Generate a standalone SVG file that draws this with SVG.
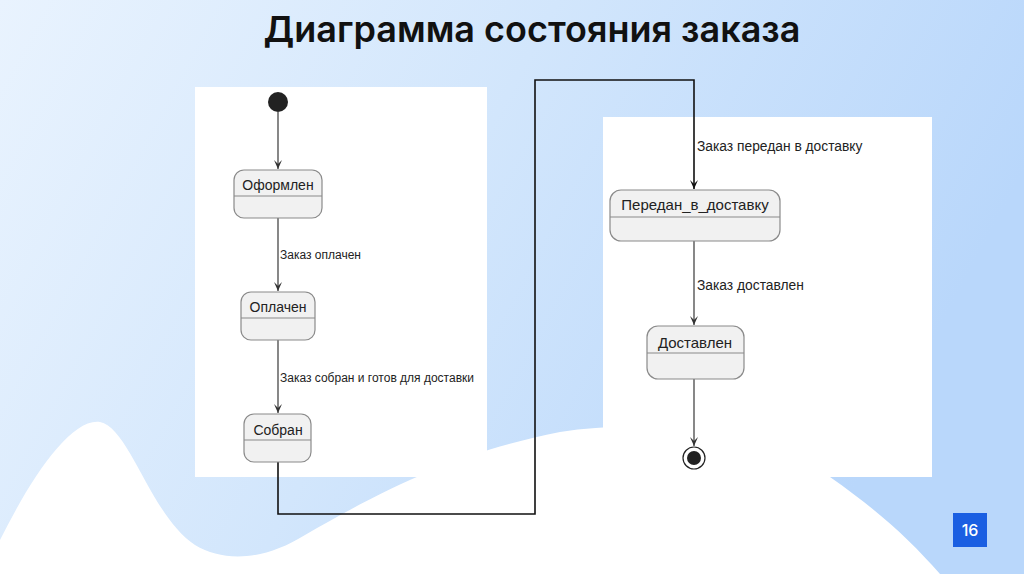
<svg xmlns="http://www.w3.org/2000/svg" width="1024" height="574" viewBox="0 0 1024 574">
<defs>
<linearGradient id="bg" x1="0" y1="0" x2="1" y2="0.3">
<stop offset="0" stop-color="#e9f3fe"/>
<stop offset="0.5" stop-color="#d2e6fc"/>
<stop offset="1" stop-color="#b9d7fb"/>
</linearGradient>
<marker id="ah" viewBox="0 0 10 10" refX="9" refY="5" markerWidth="10" markerHeight="10" markerUnits="userSpaceOnUse" orient="auto">
<path d="M0,1 L9,5 L0,9 L4,5 Z" fill="#333"/>
</marker>
<marker id="ahb" viewBox="0 0 10 10" refX="9" refY="5" markerWidth="10" markerHeight="10" markerUnits="userSpaceOnUse" orient="auto">
<path d="M0,1 L9,5 L0,9 L4,5 Z" fill="#111"/>
</marker>
</defs>
<style>
.panel{fill:#ffffff}
.st{fill:#f1f1f1;stroke:#8a8a8a;stroke-width:1.2}
.div{stroke:#8a8a8a;stroke-width:1.2}
.name{font-family:"Liberation Sans",Arial,sans-serif;font-size:14px;fill:#222;text-anchor:middle}
.nameR{font-family:"Liberation Sans",Arial,sans-serif;font-size:15px;fill:#222;text-anchor:middle}
.lbl{font-family:"Liberation Sans",Arial,sans-serif;font-size:12px;fill:#222}
.lblR{font-family:"Liberation Sans",Arial,sans-serif;font-size:13.8px;fill:#222}
.tr{stroke:#383838;stroke-width:1.2;fill:none;marker-end:url(#ah)}
.big{stroke:#111;stroke-width:1.6;fill:none;marker-end:url(#ahb)}
</style>
<rect x="0" y="0" width="1024" height="574" fill="url(#bg)"/>
<path d="M0,540 C30,480 70,418 100,422 C130,428 150,515 195,545 C225,563 265,560 305,535 C400,480 470,450 560,432 C650,418 760,430 830,477 C880,512 910,540 940,574 L0,574 Z" fill="#ffffff"/>
<text x="532" y="42" font-family="Inter,'Open Sans',sans-serif" font-size="36" font-weight="600" fill="#111" text-anchor="middle">Диаграмма состояния заказа</text>
<rect class="panel" x="195" y="87" width="292" height="390"/>
<rect class="panel" x="603" y="117" width="329" height="360"/>

<g id="connectors">
<path class="tr" d="M278,112 L278,169"/>
<path class="tr" d="M278,218 L278,291"/>
<text class="lbl" x="280" y="259">Заказ оплачен</text>
<path class="tr" d="M278,340 L278,413"/>
<text class="lbl" x="280" y="382">Заказ собран и готов для доставки</text>
<path class="big" d="M278,462 L278,514 L535,514 L535,80 L694,80 L694,189"/>
<text class="lblR" x="697" y="151">Заказ передан в доставку</text>
<path class="tr" d="M694,241 L694,325"/>
<text class="lblR" x="697" y="290">Заказ доставлен</text>
<path class="tr" d="M694,379 L694,446"/>
</g>

<g id="start"><circle cx="278" cy="102" r="10" fill="#222"/></g>

<g id="oformlen">
<rect class="st" x="234" y="170" width="88" height="48" rx="10"/>
<line class="div" x1="234" y1="196" x2="322" y2="196"/>
<text class="name" x="278" y="190">Оформлен</text>
</g>
<g id="oplachen">
<rect class="st" x="241" y="292" width="74" height="48" rx="10"/>
<line class="div" x1="241" y1="318" x2="315" y2="318"/>
<text class="name" x="278" y="312">Оплачен</text>
</g>
<g id="sobran">
<rect class="st" x="244" y="414" width="67" height="48" rx="10"/>
<line class="div" x1="244" y1="440" x2="311" y2="440"/>
<text class="name" x="278" y="435">Собран</text>
</g>
<g id="peredan">
<rect class="st" x="610" y="190" width="170" height="51" rx="11"/>
<line class="div" x1="610" y1="217" x2="780" y2="217"/>
<text class="nameR" x="695" y="210">Передан_в_доставку</text>
</g>
<g id="dostavlen">
<rect class="st" x="647" y="326" width="97" height="53" rx="11"/>
<line class="div" x1="647" y1="353" x2="744" y2="353"/>
<text class="nameR" x="695" y="348">Доставлен</text>
</g>
<g id="end">
<circle cx="694" cy="458" r="11" fill="#fff" stroke="#222" stroke-width="1.2"/>
<circle cx="694" cy="458" r="7" fill="#222"/>
</g>

<g id="pagenum">
<rect x="953" y="513" width="34" height="34" fill="#1b5fe2"/>
<text x="970" y="536" font-family="Inter,'Open Sans',sans-serif" font-size="16" font-weight="500" fill="#fff" text-anchor="middle">16</text>
</g>
</svg>
